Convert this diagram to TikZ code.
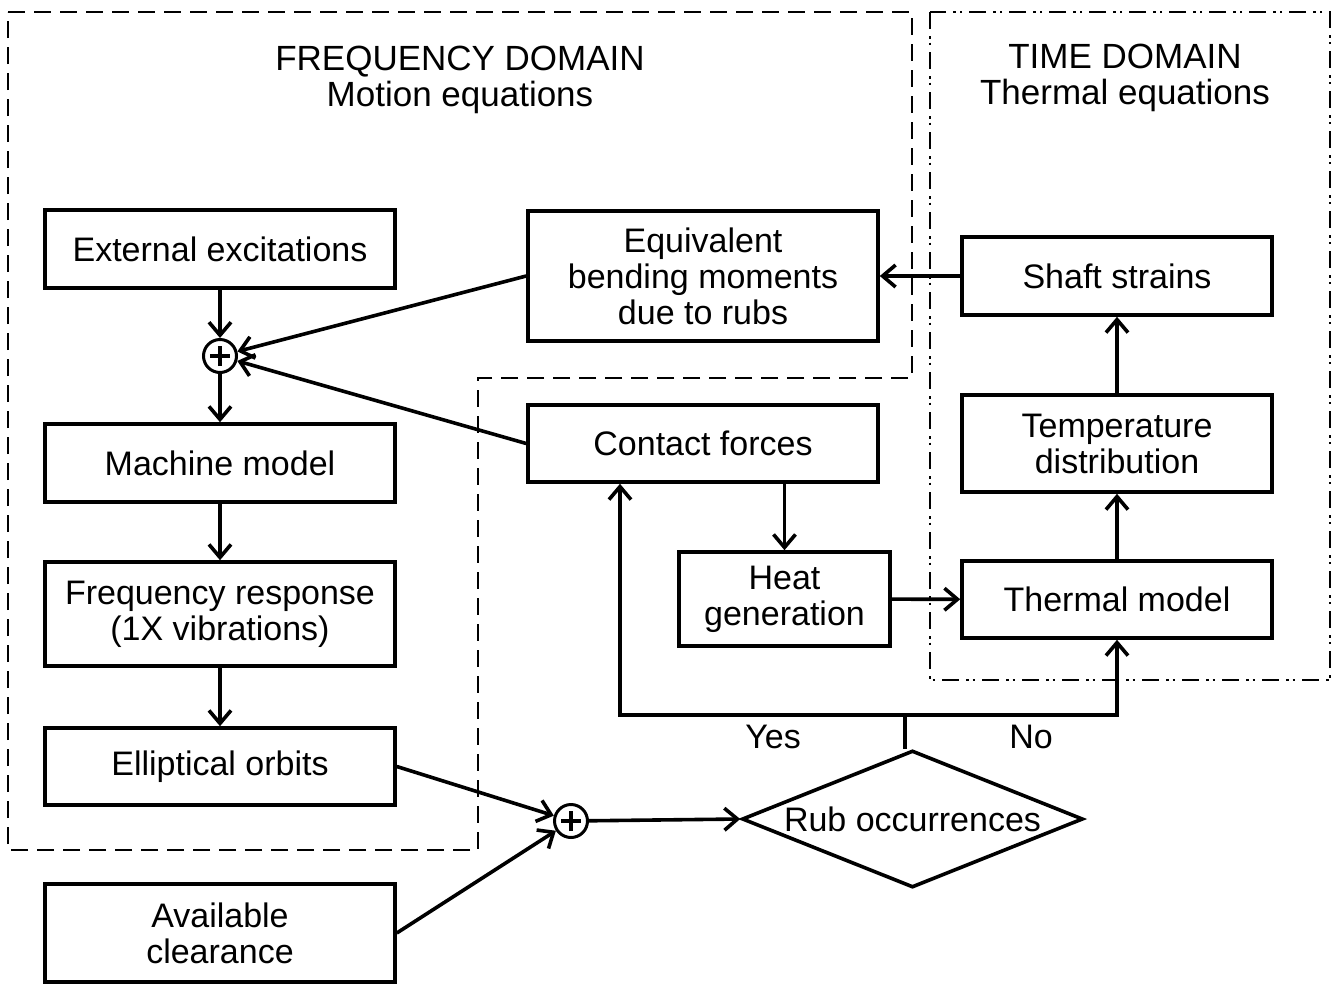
\documentclass[tikz,border=0pt]{standalone}
\usepackage{fontspec}
\setmainfont{Liberation Sans}
\usetikzlibrary{arrows.meta,shapes.geometric}
\begin{document}
\begin{tikzpicture}[x=1pt,y=-1pt,
  every node/.style={font=\fontsize{34}{36}\selectfont, align=center},
  title/.style={font=\fontsize{35}{36}\selectfont},
  blk/.style={draw, line width=3.6pt, minimum width=350pt, minimum height=78pt, inner sep=0pt},
  sumnode/.style={draw, circle, line width=3pt, minimum size=33pt, inner sep=0pt,
    path picture={\draw[line width=3.8pt] ([xshift=-10pt]path picture bounding box.center) -- ([xshift=10pt]path picture bounding box.center);
                  \draw[line width=3.8pt] ([yshift=-10pt]path picture bounding box.center) -- ([yshift=10pt]path picture bounding box.center);}},
  arr/.style={line width=3.6pt, -{Straight Barb[length=13pt,width=22pt,line width=3.6pt]}},
  ln/.style={line width=3.6pt},
  freqbox/.style={line width=2.8pt, dash pattern=on 17pt off 9pt},
  timebox/.style={line width=2.8pt, dash pattern=on 17pt off 7pt on 2.5pt off 4pt on 2.5pt off 7pt},
]
\useasboundingbox (0,0) rectangle (1341,983);
% domains
\draw[freqbox] (8,12) -- (912,12) -- (912,378) -- (478,378) -- (478,850) -- (8,850) -- cycle;
\draw[timebox] (930,12) rectangle (1330,680);
\node[title] (ft) at (460,80) {FREQUENCY DOMAIN\\Motion equations};
\node[title] (tt) at (1125,78) {TIME DOMAIN\\Thermal equations};
% blocks
\node[blk] (ext) at (220,249) {External excitations};
\node[blk] (mm) at (220,463) {Machine model};
\node[blk, minimum height=104pt] (fr) at (220,614) {Frequency response\\(1X vibrations)};
\node[blk, minimum height=77pt] (eo) at (220,766.5) {Elliptical orbits};
\node[blk, minimum height=98pt] (ac) at (220,933) {Available\\clearance};
\node[blk, minimum height=130pt] (eq) at (703,276) {Equivalent\\bending moments\\due to rubs};
\node[blk, minimum height=77pt] (cf) at (703,443.5) {Contact forces};
\node[blk, minimum width=211pt, minimum height=94pt] (hg) at (784.5,599) {Heat\\generation};
\node[blk, minimum width=310pt] (ss) at (1117,276) {Shaft strains};
\node[blk, minimum width=310pt, minimum height=97pt] (tm) at (1117,443.5) {Temperature\\distribution};
\node[blk, minimum width=310pt, minimum height=77pt] (th) at (1117,599.5) {Thermal model};
\node[draw, diamond, line width=3.6pt, aspect=2.49, minimum width=341pt, minimum height=137pt, inner sep=0pt] (rub) at (912.5,819) {Rub occurrences};
\node[sumnode] (s1) at (220,356) {};
\node[sumnode] (s2) at (571,821) {};
\coordinate (j) at (905,715);
\coordinate (yes) at (620,715);
\coordinate (no) at (1117,715);
\node (ly) at (773,737) {Yes};
\node (ln) at (1031,737) {No};
% connectors
\draw[arr] (ext) -- (s1);
\draw[arr] (eq.west) -- (s1);
\draw[arr] (cf.west) -- (s1);
\draw[arr] (s1) -- (mm);
\draw[arr] (mm) -- (fr);
\draw[arr] (fr) -- (eo);
\draw[arr] (eo.east) -- (s2);
\draw[arr] (ac.east) -- (s2);
\draw[arr] (s2) -- (rub.west);
\draw[ln] (rub.north -| j) -- (j);
\draw[arr] (j) -- (yes) -- (yes |- cf.south);
\draw[arr] (j) -- (no) -- (th);
\draw[arr] (cf.south -| hg) -- (hg);
\draw[arr] (hg) -- (th);
\draw[arr] (th) -- (tm);
\draw[arr] (tm) -- (ss);
\draw[arr] (ss) -- (eq);
\end{tikzpicture}
\end{document}
